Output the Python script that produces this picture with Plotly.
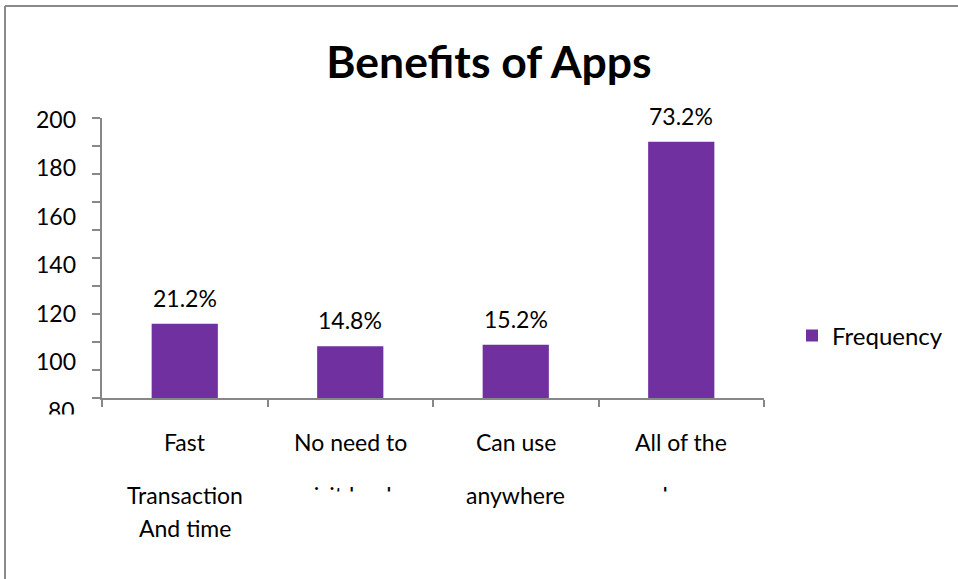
import plotly.graph_objects as go

# ---- data -------------------------------------------------------------
categories = [
    "Fast Transaction And time",
    "No need to visit bank",
    "Can use anywhere",
    "All of the above",
]
category_lines = [
    ["Fast", "Transaction", "And time"],
    ["No need to", "visit bank"],
    ["Can use", "anywhere"],
    ["All of the", "above"],
]
frequency = [53, 37, 38, 183]
respondents = 250
percent_labels = [f"{f / respondents * 100:.1f}%" for f in frequency]

y_tick_values = [0, 20, 40, 60, 80, 100, 120, 140, 160, 180, 200]
y_label_values = [200, 180, 160, 140, 120, 100]
y_label_clipped = "80"

# ---- layout geometry (pixels) ----------------------------------------
W, H = 958, 579
PL, PR, PT, PB = 102, 764, 118, 398
FONT = "Lato, Carlito, Calibri, sans-serif"
BAR_COLOR = "#7030A0"
AXIS_COLOR = "#878787"


def xp(px):
    return (px - PL) / (PR - PL)


def yp(py):
    return (PB - py) / (PB - PT)


# the value labels on the left run at a wider pitch than the tick marks
LABEL_PX_PER_UNIT = 2.42
LABEL_200_PX = 120
label_range = [
    200 - (PB - LABEL_200_PX) / LABEL_PX_PER_UNIT,
    200 + (LABEL_200_PX - PT) / LABEL_PX_PER_UNIT,
]

fig = go.Figure()
fig.add_trace(
    go.Bar(
        x=categories,
        y=frequency,
        name="Frequency",
        marker=dict(color=BAR_COLOR, line=dict(width=0)),
        width=0.4,
        hoverinfo="x+y",
    )
)
# empty trace so the label axis (y2) gets drawn
fig.add_trace(
    go.Scatter(x=[], y=[], yaxis="y2", mode="markers",
               showlegend=False, hoverinfo="skip")
)

annotations = []

# percentage labels above each bar
for cat, f, lab in zip(categories, frequency, percent_labels):
    annotations.append(
        dict(
            x=cat, y=f, xref="x", yref="y", text=lab, showarrow=False,
            yanchor="bottom", yshift=10,
            font=dict(family=FONT, size=23, color="#000000"),
        )
    )

# category text rows under the axis
row_px = [442, 495, 528]
for cat, lines in zip(categories, category_lines):
    for i, line in enumerate(lines):
        annotations.append(
            dict(
                x=cat, y=yp(row_px[i]), xref="x", yref="paper", text=line,
                showarrow=False, yanchor="middle",
                font=dict(family=FONT, size=23, color="#000000"),
            )
        )

# lowest value label, sitting below the axis
annotations.append(
    dict(
        x=xp(77), y=yp(LABEL_200_PX + (200 - 80) * LABEL_PX_PER_UNIT),
        xref="paper", yref="paper", text=y_label_clipped, showarrow=False,
        xanchor="right", yanchor="middle",
        font=dict(family=FONT, size=23, color="#000000"),
    )
)

# white masks that trim the overflowing label text
masks = [
    (20, 413.5, 75, 22),                   # below the "80" label
    (PL + 165.5 * 1 + 5, 490.5, 155, 24),  # second row, column 2
    (PL + 165.5 * 3 + 5, 490.5, 155, 24),  # second row, column 4
]
for mx, my, mw, mh in masks:
    annotations.append(
        dict(
            x=xp(mx), y=yp(my), xref="paper", yref="paper", text="\u00a0",
            showarrow=False, xanchor="left", yanchor="top",
            width=mw, height=mh, bgcolor="#ffffff", borderpad=0,
            font=dict(size=2),
        )
    )

# outer chart frame (left and top edges)
shapes = [
    dict(type="line", xref="paper", yref="paper",
         x0=xp(5), x1=xp(W + 5), y0=yp(6), y1=yp(6),
         line=dict(color="#8a8a8a", width=2)),
    dict(type="line", xref="paper", yref="paper",
         x0=xp(5), x1=xp(5), y0=yp(6), y1=yp(H + 5),
         line=dict(color="#8a8a8a", width=2)),
]

fig.update_layout(
    width=W,
    height=H,
    margin=dict(l=PL, r=W - PR, t=PT, b=H - PB, pad=0, autoexpand=False),
    paper_bgcolor="#ffffff",
    plot_bgcolor="#ffffff",
    font=dict(family=FONT, color="#000000"),
    title=dict(
        text="<b>Benefits of Apps</b>",
        x=xp(489), xref="paper", xanchor="center",
        y=1 - 62 / H, yref="container", yanchor="middle",
        font=dict(family=FONT, size=44.5, color="#000000"),
    ),
    xaxis=dict(
        type="category",
        categoryorder="array",
        categoryarray=categories,
        range=[-0.5, 3.5],
        showticklabels=False,
        ticks="outside",
        tickson="boundaries",
        ticklen=7,
        tickcolor=AXIS_COLOR,
        tickwidth=1.5,
        showline=True,
        linecolor=AXIS_COLOR,
        linewidth=1.5,
        showgrid=False,
        zeroline=False,
        fixedrange=True,
    ),
    yaxis=dict(
        range=[0, 200],
        tickvals=y_tick_values,
        showticklabels=False,
        ticks="outside",
        ticklen=8,
        tickcolor=AXIS_COLOR,
        tickwidth=1.5,
        showline=True,
        linecolor=AXIS_COLOR,
        linewidth=1.5,
        showgrid=False,
        zeroline=False,
        fixedrange=True,
    ),
    yaxis2=dict(
        overlaying="y",
        anchor="x",
        side="left",
        range=label_range,
        tickvals=y_label_values,
        ticktext=[str(v) for v in y_label_values],
        ticks="",
        ticklabelstandoff=25,
        showline=False,
        showgrid=False,
        zeroline=False,
        tickfont=dict(family=FONT, size=23, color="#000000"),
        fixedrange=True,
    ),
    showlegend=True,
    legend=dict(
        x=xp(792), y=yp(336), xref="paper", yref="paper",
        xanchor="left", yanchor="middle",
        font=dict(family=FONT, size=24, color="#000000"),
        bgcolor="rgba(0,0,0,0)",
        borderwidth=0,
    ),
    bargap=0.6,
    annotations=annotations,
    shapes=shapes,
)

fig.write_html("out.html")
